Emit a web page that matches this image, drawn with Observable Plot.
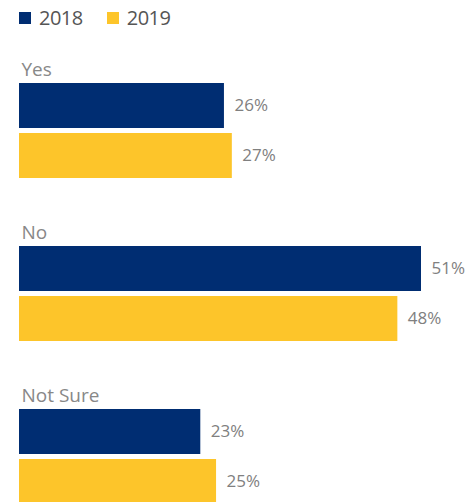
<!DOCTYPE html>
<html>
<head>
<meta charset="utf-8">
<script src="https://cdn.jsdelivr.net/npm/d3@7"></script>
<script src="https://cdn.jsdelivr.net/npm/@observablehq/plot@0.6"></script>
<style>
  html, body { margin: 0; padding: 0; background: #fff; overflow: hidden; }
  #legend { height: 35px; display: flex; align-items: center; padding-left: 19px; box-sizing: border-box;
            font-family: "Open Sans", sans-serif; font-size: 20px; letter-spacing: -0.5px; color: #555; }
  .item { display: flex; align-items: center; margin-right: 24px; }
  .sw { width: 12px; height: 12px; margin-right: 8px; }
</style>
</head>
<body>
<div id="legend"></div>
<div id="chart"></div>
<script>
const categories = ["Yes", "No", "Not Sure"];
const years = ["2018", "2019"];
const values2018 = [26, 51, 23];
const values2019 = [27, 48, 25];
const colors = ["#002D72", "#FDC52A"];

const data = [];
categories.forEach((c, i) => {
  data.push({category: c, year: years[0], value: values2018[i]});
  data.push({category: c, year: years[1], value: values2019[i]});
});

const legend = document.getElementById("legend");
years.forEach((y, i) => {
  const it = document.createElement("div");
  it.className = "item";
  it.innerHTML = `<div class="sw" style="background:${colors[i]}"></div><span>${y}</span>`;
  legend.appendChild(it);
});

const font = '"Open Sans", sans-serif';

const chart = Plot.plot({
  width: 472,
  height: 470,
  marginLeft: 19,
  marginRight: 51,
  marginTop: 48,
  marginBottom: 1,
  style: {fontFamily: font, background: "#fff"},
  x: {domain: [0, 51], axis: null},
  y: {domain: years, axis: null, paddingInner: 0.1, paddingOuter: 0},
  fy: {domain: categories, axis: null, paddingInner: 0.4172, paddingOuter: 0},
  color: {domain: years, range: colors},
  marks: [
    Plot.barX(data, {fy: "category", y: "year", x: "value", fill: "year"}),
    Plot.text(data, {fy: "category", y: "year", x: "value", text: d => d.value + "%",
      textAnchor: "start", dx: 10, fill: "#808080", fontSize: 17}),
    Plot.text(categories, {fy: d => d, text: d => d, frameAnchor: "top-left", lineAnchor: "bottom",
      dy: -8, dx: 2, fill: "#888", fontSize: 19})
  ]
});
document.getElementById("chart").appendChild(chart);
</script>
</body>
</html>
